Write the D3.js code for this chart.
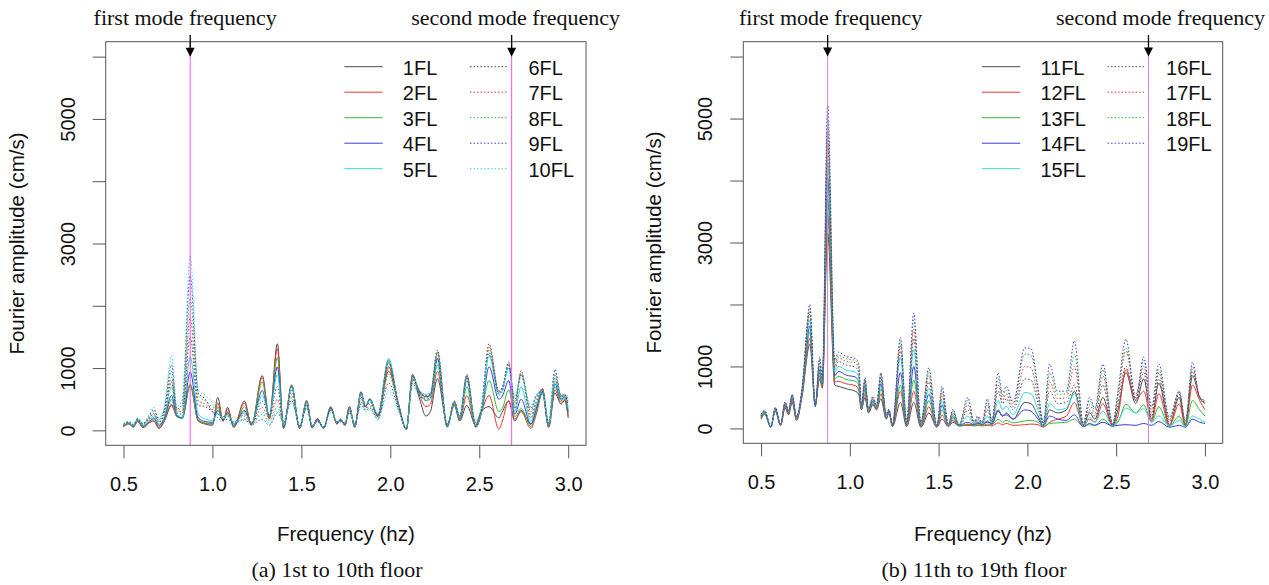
<!DOCTYPE html>
<html>
<head>
<meta charset="utf-8">
<script src="https://cdn.jsdelivr.net/npm/d3@7"></script>
<style>
  body { margin: 0; background: #fff; }
</style>
</head>
<body>
<svg id="chart" width="1269" height="585"></svg>
<script>
// ---- panel (a): floors 1-10, amplitudes read at local peaks / troughs ----
const freqA = [0.50,0.53,0.555,0.58,0.61,0.64,0.67,0.70,0.73,0.77,
  0.80,0.83,0.875,0.92,0.96,1.00,1.03,1.06,1.085,1.12,
  1.18,1.22,1.28,1.32,1.365,1.40,1.445,1.49,1.53,1.56,
  1.59,1.625,1.665,1.70,1.72,1.745,1.77,1.80,1.835,1.86,
  1.885,1.93,1.99,2.045,2.09,2.125,2.165,2.20,2.225,2.265,
  2.32,2.36,2.39,2.43,2.48,2.51,2.555,2.61,2.63,2.665,
  2.70,2.735,2.79,2.82,2.855,2.89,2.925,2.96,2.98,3.00];

const fl1 = [60,110,50,150,40,120,150,30,150,400, 230,200,720,150,100,80,530,150,370,50, 470,80,880,180,1390,30,730,30,480,40, 190,30,380,100,180,80,380,50,620,380, 510,220,950,430,20,900,500,230,300,830, 100,400,150,400,80,300,380,200,300,470, 150,320,100,300,670,50,600,420,480,200];
const fl2 = [60,100,60,140,50,110,150,40,160,420, 220,200,740,160,110,100,440,150,340,50, 440,90,850,200,1310,40,720,30,470,40, 180,30,370,100,180,80,380,50,610,380, 500,230,1020,440,20,880,560,380,420,950, 80,420,160,560,70,280,560,20,150,480, 180,300,30,250,600,50,650,450,500,230];
const fl3 = [70,110,60,150,60,120,180,60,180,500, 220,190,740,170,120,110,380,160,300,60, 380,100,780,220,1170,50,710,40,460,50, 170,30,360,110,170,90,370,60,600,390, 500,240,1080,430,20,870,600,480,500,1050, 60,440,170,700,60,260,800,300,350,650, 220,350,60,300,600,60,700,480,520,260];
const fl4 = [70,120,60,160,70,130,200,80,200,560, 240,200,940,200,140,130,320,170,280,80, 320,110,640,230,1020,60,700,40,450,50, 170,40,360,110,170,90,360,60,590,390, 490,250,1130,420,20,860,620,540,560,1150, 50,460,180,850,50,250,1020,500,550,800, 260,500,100,350,620,70,750,500,540,300];
const fl5 = [80,120,70,170,80,150,230,100,230,700, 260,210,1180,260,180,160,270,180,260,100, 280,120,560,240,890,80,690,50,440,60, 160,40,350,120,160,100,350,70,580,400, 480,260,1150,420,20,850,640,580,600,1250, 50,470,190,880,50,260,1200,600,650,1000, 300,700,150,400,640,80,800,520,560,350];
const fl6 = [90,130,80,180,100,180,260,130,270,780, 280,260,1500,400,380,300,260,170,230,120, 300,120,470,240,700,100,640,60,420,60, 160,40,350,120,160,100,340,80,540,380, 450,240,1100,410,20,830,620,560,580,1290, 60,470,200,900,60,280,1390,640,700,1100, 350,900,200,450,660,90,850,540,580,400];
const fl7 = [80,120,70,170,90,170,270,140,300,850, 300,300,1800,480,420,340,380,220,260,140, 250,110,370,200,500,120,580,60,400,70, 150,50,340,130,150,110,330,90,500,360, 420,220,1000,400,20,810,600,540,560,1260, 70,460,210,880,80,300,1350,620,680,1080, 400,960,250,500,670,100,900,560,580,450];
const fl8 = [90,130,80,180,100,190,300,160,320,950, 320,350,2120,560,470,380,350,200,240,130, 220,100,260,150,380,130,520,70,380,70, 140,50,330,130,150,110,310,100,460,340, 390,200,900,380,30,790,580,520,540,1200, 80,450,220,850,100,320,1300,600,660,1060, 450,930,300,550,650,110,950,560,570,500];
const fl9 = [100,140,90,190,110,210,330,180,350,1050, 340,420,2480,600,500,300,200,150,180,110, 180,90,180,80,280,150,480,80,360,80, 140,60,320,140,140,120,290,110,420,320, 360,180,760,350,30,760,550,500,520,1150, 90,440,230,800,120,340,1250,580,640,1040, 500,900,350,560,630,120,980,540,560,520];
const fl10 = [110,150,100,200,120,230,370,200,380,1200, 380,500,2800,650,560,450,300,200,220,140, 160,90,300,100,320,160,450,90,340,80, 130,60,300,150,140,120,270,120,380,300, 330,170,640,320,40,740,520,480,500,1100, 100,430,240,750,140,360,1200,560,620,1000, 550,850,380,560,600,130,950,520,560,550];

// ---- panel (b): floors 11-19 ----
const freqB = [0.50,0.52,0.555,0.58,0.61,0.635,0.655,0.675,0.70,0.73,
  0.775,0.805,0.83,0.845,0.875,0.915,0.935,0.98,1.03,1.05,
  1.065,1.085,1.105,1.13,1.15,1.175,1.205,1.22,1.24,1.285,
  1.32,1.36,1.40,1.445,1.49,1.52,1.555,1.58,1.615,1.665,
  1.70,1.72,1.745,1.775,1.80,1.835,1.86,1.88,1.92,1.985,
  2.02,2.06,2.09,2.125,2.17,2.22,2.265,2.315,2.35,2.38,
  2.425,2.48,2.51,2.555,2.61,2.655,2.70,2.74,2.80,2.855,
  2.89,2.93,2.97,3.00];

const fl11 = [150,230,20,280,50,330,220,420,130,500, 1360,380,800,650,3150,700,680,640,600,550, 300,500,250,380,300,480,150,250,30,420, 30,420,20,250,20,150,30,100,40,60, 60,80,70,100,80,300,200,250,150,420, 400,200,50,300,250,300,600,50,250,150, 500,50,300,900,400,800,150,730,60,500, 50,850,500,400];
const fl12 = [160,240,20,290,50,350,240,450,140,520, 1450,380,850,680,3450,750,760,720,690,620, 310,560,260,400,310,560,160,260,40,600, 40,600,30,350,20,220,30,130,40,50, 40,50,40,50,40,90,60,80,50,60, 70,60,20,100,150,200,420,40,150,100, 400,40,200,950,450,600,120,560,40,400, 40,700,450,300];
const fl13 = [170,250,20,300,50,370,250,480,150,540, 1550,370,900,700,3700,800,840,790,760,700, 320,620,270,420,320,640,170,270,40,700, 50,780,40,450,30,300,40,160,40,70, 50,70,50,70,60,150,100,130,90,120, 130,100,30,80,90,100,150,30,60,50, 150,30,100,390,250,380,100,350,30,200, 30,450,300,200];
const fl14 = [180,260,20,310,50,380,260,500,160,560, 1650,370,950,720,4050,850,920,860,830,760, 330,680,280,440,330,720,180,280,50,900, 60,1000,50,550,30,380,40,190,50,100, 60,100,60,120,70,280,200,220,150,300, 280,150,40,200,150,130,220,30,80,50, 100,40,50,60,50,80,50,110,20,50, 20,150,100,80];
const fl15 = [190,270,20,320,50,400,270,520,170,580, 1750,360,1000,740,4300,900,1000,940,910,830, 340,720,290,460,340,780,190,290,50,1150, 70,1270,60,650,30,450,40,220,50,200, 70,130,70,200,90,450,300,360,220,580, 560,300,50,400,300,330,560,40,180,100, 280,40,120,330,250,320,100,200,40,130, 30,200,150,100];
const fl16 = [200,280,20,330,60,410,280,530,180,600, 1850,360,1050,760,4600,950,1080,1020,990,900, 350,760,300,480,350,820,200,300,50,1250, 80,1450,70,750,40,520,50,250,50,300, 80,150,80,300,100,600,400,480,300,800, 780,400,60,600,400,420,700,50,300,200, 700,50,400,1000,500,900,200,800,100,550, 60,900,500,420];
const fl17 = [210,280,20,330,60,420,280,540,180,610, 1900,360,1100,780,4800,1000,1140,1080,1060,970, 360,780,310,490,360,850,210,300,60,1330, 90,1600,80,850,40,580,50,270,60,380, 90,170,90,380,110,700,450,560,350,1000, 980,500,70,750,480,500,1000,60,380,250, 850,60,500,1250,550,1000,250,900,120,580, 80,950,520,450];
const fl18 = [220,290,20,340,60,420,290,550,190,620, 1950,350,1120,800,5000,1050,1180,1120,1100,1000, 370,800,310,500,370,880,220,310,60,1400, 100,1750,90,920,50,640,50,290,60,450, 100,190,100,440,120,800,500,620,400,1200, 1180,600,80,900,550,560,1200,70,450,300, 950,70,550,1300,450,1100,300,950,150,600, 100,1000,480,400];
const fl19 = [230,290,20,340,60,430,290,550,190,630, 2000,350,1150,820,5230,1100,1230,1160,1130,1050, 380,820,320,520,380,900,230,310,60,1470, 110,1860,100,980,50,680,60,310,60,500, 110,200,100,480,130,900,550,680,420,1300, 1290,650,90,1040,600,600,1415,80,500,330, 1040,80,600,1440,450,1150,350,1040,180,600, 120,1070,500,450];

const namesA = ["1FL","2FL","3FL","4FL","5FL","6FL","7FL","8FL","9FL","10FL"];
const namesB = ["11FL","12FL","13FL","14FL","15FL","16FL","17FL","18FL","19FL"];

const xTicks = [0.5, 1.0, 1.5, 2.0, 2.5, 3.0];
const yTicks = [0, 1000, 2000, 3000, 4000, 5000, 6000];
const yLabelled = [0, 1000, 3000, 5000];
const modeFreqs = [0.875, 2.682];
const modeNames = ["first mode frequency", "second mode frequency"];

const palette = ["#4a4a4a", "#ee3535", "#33bb33", "#3a3ae0", "#30dada"];
const sans = "'Liberation Sans', Arial, Helvetica, sans-serif";
const serif = "'Liberation Serif', 'Times New Roman', Times, serif";

const svg = d3.select("#chart");
svg.append("rect").attr("width", 1269).attr("height", 585).attr("fill", "#fff");

function drawPanel(p) {
  const x = d3.scaleLinear().domain([0.4, 3.1]).range([p.left, p.right]);
  const y = d3.scaleLinear().domain([-240, 6240]).range([p.bottom, p.top]);
  const g = svg.append("g");

  const line = d3.line()
    .x((d, i) => x(p.freq[i]))
    .y(d => y(d))
    .curve(d3.curveMonotoneX);

  p.series.forEach(function(s, i) {
    g.append("path")
      .attr("d", line(s))
      .attr("fill", "none")
      .attr("stroke", palette[i % 5])
      .attr("stroke-width", 1)
      .attr("stroke-dasharray", i < 5 ? null : "1.5,2");
  });

  // mode lines
  modeFreqs.forEach(function(f) {
    g.append("line")
      .attr("x1", x(f)).attr("x2", x(f))
      .attr("y1", p.top).attr("y2", p.bottom)
      .attr("stroke", p.modeColor)
      .attr("stroke-width", 1);
  });

  // box
  g.append("rect")
    .attr("x", p.left).attr("y", p.top)
    .attr("width", p.right - p.left).attr("height", p.bottom - p.top)
    .attr("fill", "none").attr("stroke", "#555").attr("stroke-width", 1);

  // axes
  const xAxis = g.append("g")
    .attr("transform", `translate(0,${p.bottom})`)
    .call(d3.axisBottom(x).tickValues(xTicks).tickSize(13).tickSizeOuter(0)
      .tickFormat(d3.format(".1f")));
  xAxis.select(".domain").remove();
  xAxis.selectAll("line").attr("stroke", "#555");
  xAxis.selectAll("text")
    .attr("y", 46).attr("dy", 0)
    .style("font-family", sans).style("font-size", "20px").attr("fill", "#111");

  const yAxis = g.append("g")
    .attr("transform", `translate(${p.left},0)`)
    .call(d3.axisLeft(y).tickValues(yTicks).tickSize(13).tickSizeOuter(0)
      .tickFormat(d => yLabelled.includes(d) ? d : ""));
  yAxis.select(".domain").remove();
  yAxis.selectAll("line").attr("stroke", "#555");
  yAxis.selectAll("text")
    .attr("transform", "rotate(-90)")
    .attr("x", 0).attr("y", -31).attr("dy", 0)
    .attr("text-anchor", "middle")
    .style("font-family", sans).style("font-size", "20px").attr("fill", "#111");

  // axis titles
  const cx = (p.left + p.right) / 2;
  g.append("text")
    .attr("x", cx).attr("y", 541)
    .attr("text-anchor", "middle")
    .style("font-family", sans).style("font-size", "20.5px").attr("fill", "#111")
    .text("Frequency (hz)");
  g.append("text")
    .attr("transform", `translate(${p.left - 82},${(p.top + p.bottom) / 2}) rotate(-90)`)
    .attr("text-anchor", "middle")
    .style("font-family", sans).style("font-size", "20.5px").attr("fill", "#111")
    .text("Fourier amplitude (cm/s)");

  // caption
  g.append("text")
    .attr("x", p.captionX).attr("y", 577)
    .attr("text-anchor", "middle")
    .style("font-family", serif).style("font-size", "22px").attr("fill", "#111")
    .text(p.caption);

  // legend
  p.names.forEach(function(n, i) {
    const col = i < 5 ? 0 : 1;
    const row = i % 5;
    const lx = p.left + 238.6 + col * 125.7;
    const ly = p.top + 25 + row * 25.5;
    g.append("line")
      .attr("x1", lx).attr("x2", lx + 38.4)
      .attr("y1", ly).attr("y2", ly)
      .attr("stroke", palette[i % 5])
      .attr("stroke-width", 1)
      .attr("stroke-dasharray", i < 5 ? null : "1.5,2");
    g.append("text")
      .attr("x", lx + 58.5).attr("y", ly + 8)
      .style("font-family", sans).style("font-size", "20px").attr("fill", "#111")
      .text(n);
  });

  // arrows and their labels
  modeFreqs.forEach(function(f, i) {
    const ax = x(f);
    const tip = y(6000);
    g.append("line")
      .attr("x1", ax).attr("x2", ax)
      .attr("y1", 35).attr("y2", tip - 8)
      .attr("stroke", "#000").attr("stroke-width", 1.3);
    g.append("path")
      .attr("d", `M${ax - 4.5},${tip - 9}L${ax + 4.5},${tip - 9}L${ax},${tip}Z`)
      .attr("fill", "#000");
    g.append("text")
      .attr("x", ax + p.labelShift[i]).attr("y", 25)
      .attr("text-anchor", "middle")
      .style("font-family", serif).style("font-size", "22px").attr("fill", "#111")
      .text(modeNames[i]);
  });
}

drawPanel({
  left: 105.7, right: 586, top: 41.7, bottom: 445.3,
  freq: freqA,
  series: [fl1, fl2, fl3, fl4, fl5, fl6, fl7, fl8, fl9, fl10],
  names: namesA,
  modeColor: "#ff4dff",
  caption: "(a) 1st to 10th floor",
  captionX: 337,
  labelShift: [-5, 4]
});

drawPanel({
  left: 743.3, right: 1222.7, top: 41.7, bottom: 443.3,
  freq: freqB,
  series: [fl11, fl12, fl13, fl14, fl15, fl16, fl17, fl18, fl19],
  names: namesB,
  modeColor: "#d67ed6",
  caption: "(b) 11th to 19th floor",
  captionX: 974,
  labelShift: [3, 12]
});
</script>
</body>
</html>
